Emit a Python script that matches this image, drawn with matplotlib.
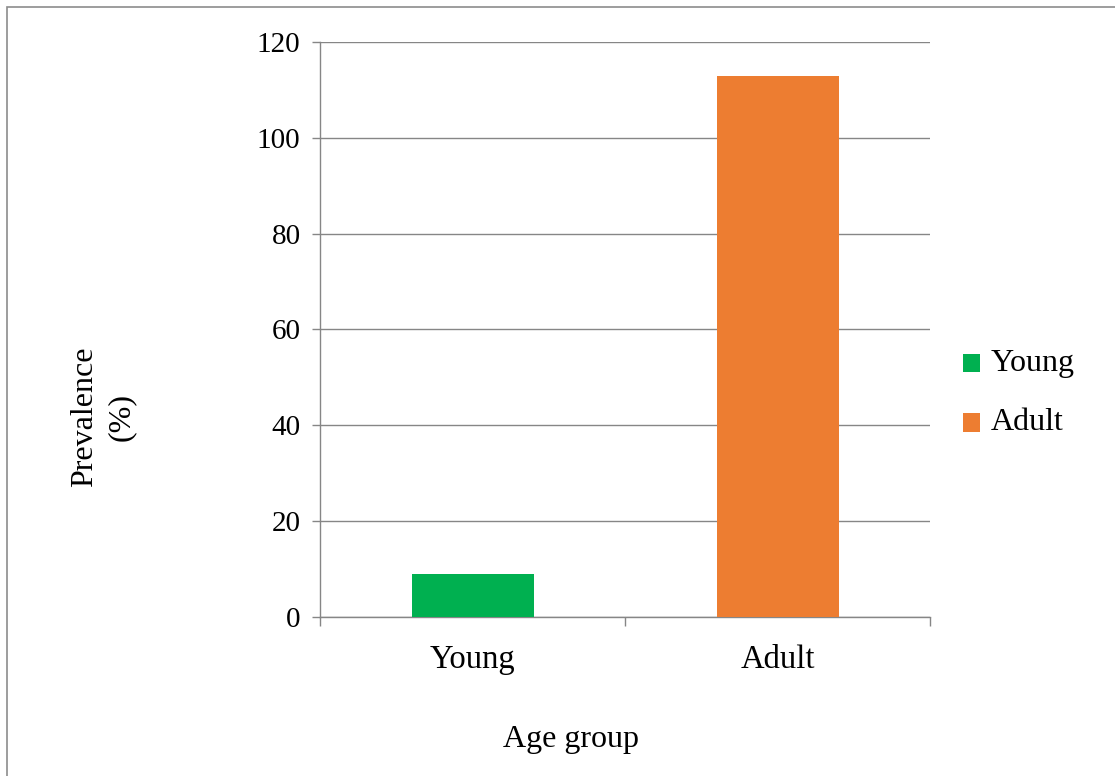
import matplotlib
matplotlib.use("Agg")
import matplotlib.pyplot as plt
from matplotlib.patches import Rectangle, Patch

categories = ["Young", "Adult"]
prevalence = [9, 113]
colors = ["#00B050", "#ED7D31"]
yticks = [0, 20, 40, 60, 80, 100, 120]

plt.rcParams["font.family"] = ["Liberation Serif", "DejaVu Serif"]

W, H = 1115, 776
fig = plt.figure(figsize=(W / 100, H / 100), dpi=100)

# outer frame of the chart area
fig.patches.append(Rectangle((7 / W, -0.05), 1.2, 1 - 7 / H + 0.05,
                             transform=fig.transFigure, fill=False,
                             edgecolor="#8c8c8c", linewidth=1.2))

ax = fig.add_axes([320 / W, 1 - 617 / H, 610 / W, 575 / H])
x = range(len(categories))
ax.bar(x, prevalence, width=0.4, color=colors, zorder=3)
ax.set_xlim(-0.5, 1.5)
ax.set_ylim(0, 120)
ax.set_yticks(yticks)
ax.set_xticks([-0.5, 0.5, 1.5], minor=False)
ax.set_xticklabels([])
ax.set_xticks(list(x), minor=True)
ax.set_xticklabels(categories, minor=True)
ax.tick_params(axis="x", which="minor", length=0, labelsize=23.5, pad=20)
ax.tick_params(axis="x", which="major", length=6.5, color="#868686", width=1)
ax.tick_params(axis="y", length=6, color="#868686", width=1, labelsize=21, pad=8)
ax.grid(axis="y", color="#868686", linewidth=1, zorder=0)
for side in ["top", "right"]:
    ax.spines[side].set_visible(False)
for side in ["left", "bottom"]:
    ax.spines[side].set_color("#868686")
    ax.spines[side].set_linewidth(1)

fig.text(571 / W, 1 - 740 / H, "Age group", ha="center", va="center", fontsize=23)
fig.text(103 / W, 1 - 417 / H, "Prevalence\n(%)", ha="center", va="center",
         rotation=90, fontsize=23, linespacing=1.35)

handles = [Patch(facecolor=c, label=l) for c, l in zip(colors, categories)]
fig.legend(handles=handles, loc="center left", bbox_to_anchor=(963 / W, 1 - 393 / H),
           frameon=False, fontsize=23, handlelength=0.53, handleheight=0.53,
           handletextpad=0.35, labelspacing=0.95, borderaxespad=0, borderpad=0)
for patch in fig.legends[0].get_patches():
    patch.set_y(patch.get_y() - 2.5)

fig.savefig("out.png", dpi=100)
